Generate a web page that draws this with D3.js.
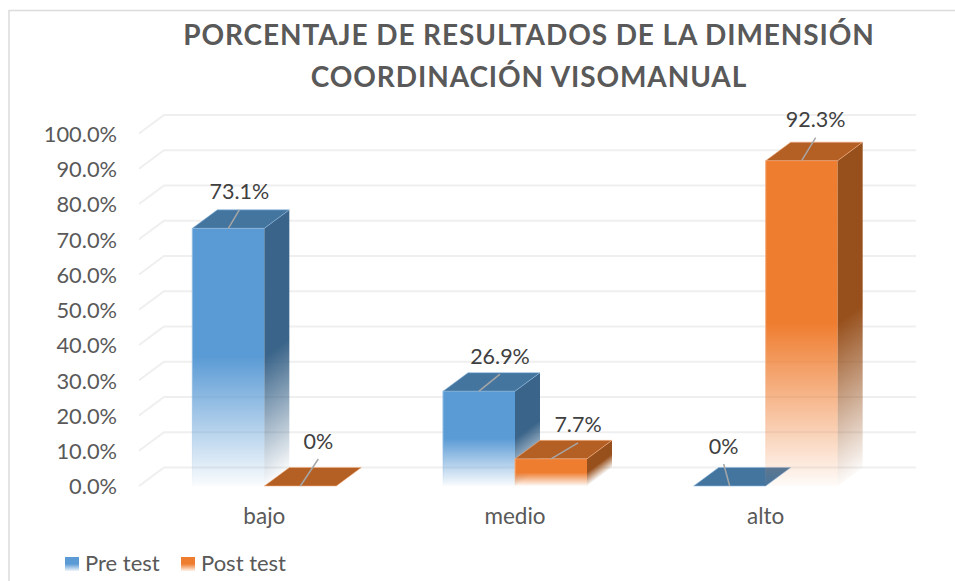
<!DOCTYPE html>
<html><head><meta charset="utf-8">
<script src="https://d3js.org/d3.v7.min.js"></script>
<style>html,body{margin:0;padding:0;background:#fff}svg{display:block}text{font-family:Lato,"Open Sans",sans-serif}</style>
</head><body><svg id="c" width="955" height="581"></svg>
<script>
const titleLines = ["PORCENTAJE DE RESULTADOS DE LA DIMENSIÓN","COORDINACIÓN VISOMANUAL"];
const categories = ["bajo","medio","alto"];
const seriesNames = ["Pre test","Post test"];
const preTest = [73.1,26.9,0];
const postTest = [0,7.7,92.3];
const preLabels = ["73.1%","26.9%","0%"];
const postLabels = ["0%","7.7%","92.3%"];
const yTicks = [0,10,20,30,40,50,60,70,80,90,100];
// leader-line offsets from the bar's front top edge midpoint (layout, not data)
const preLeader = [[11,-18.5],[21,-17],[-6,-22]];
const postLeader = [[18,-27],[27,-16],[14,-23]];

const W=955,H=581,depthX=25,depthY=-18.5;
const palette={Pre:{front:"#5b9bd5",top:"#44759f",side:"#3a6489",edge:"#8fbbe3"},
               Post:{front:"#ef7d30",top:"#b45f24",side:"#97501c",edge:"#f5b083"}};
const svg=d3.select("#c");
const defs=svg.append("defs");
const x=d3.scaleBand().domain(categories).range([139,891]);
const x1=d3.scaleBand().domain(seriesNames).range([x.bandwidth()/2-72,x.bandwidth()/2+72]);
const y=d3.scaleLinear().domain([0,100]).range([486,133.5]);

// chart frame: left and top edges only, the crop removes the rest
svg.append("path").attr("d",`M9,581V10.5H${W}`).attr("fill","none").attr("stroke","#dcdcdc").attr("stroke-width",1.5);

// title
svg.append("g").selectAll("text").data(titleLines).join("text")
  .attr("x",529).attr("y",(d,i)=>45+i*41.5).attr("text-anchor","middle")
  .attr("font-size",28).attr("font-weight",700).attr("letter-spacing",0.9).attr("fill","#595959").text(d=>d);

// gridlines on back wall + left wall
const grid=svg.append("g").attr("fill","none").attr("stroke","#efefef").attr("stroke-width",2);
yTicks.forEach(t=>{
  grid.append("path").attr("d",d3.line()([[x.range()[0],y(t)],[x.range()[0]+depthX,y(t)+depthY],[x.range()[1]+depthX,y(t)+depthY]]));
});

// y axis
const yAxis=d3.axisLeft(y).tickValues(yTicks).tickSize(0).tickFormat(d=>d.toFixed(1)+"%");
const ya=svg.append("g").attr("transform","translate(117,0)").call(yAxis);
ya.select(".domain").remove();
ya.selectAll("text").attr("x",0).attr("font-size",21.8).attr("fill","#595959").attr("dy","0.36em");

// x axis
const xa=svg.append("g").attr("transform","translate(0,516)").call(d3.axisBottom(x).tickSize(0));
xa.select(".domain").remove();
xa.selectAll("text").attr("y",0).attr("dy","0.36em").attr("font-size",22.5).attr("fill","#595959");

function fade(id,col,x1g,y1g,x2g,y2g){
  const g=defs.append("linearGradient").attr("id",id).attr("gradientUnits","userSpaceOnUse")
    .attr("x1",x1g).attr("y1",y1g).attr("x2",x2g).attr("y2",y2g);
  g.append("stop").attr("offset","0%").attr("stop-color",col);
  g.append("stop").attr("offset","50%").attr("stop-color",col);
  g.append("stop").attr("offset","100%").attr("stop-color",col).attr("stop-opacity",0.03);
  return `url(#${id})`;
}
function bar(key,name,val,cat,i,labelText,lead){
  const p=palette[key];
  const x0=x(cat)+x1(name), bw=x1.bandwidth(), yT=y(val), yB=y(0);
  const g=svg.append("g").attr("class","bar");
  if(val>0){
    const frontFill=fade(`f${key}${i}`,p.front,0,yT,0,yB);
    g.append("rect").attr("x",x0).attr("y",yT).attr("width",bw).attr("height",yB-yT).attr("fill",frontFill);
    // light edges on the front face that fade with the bar
    const edgeFill=fade(`e${key}${i}`,p.edge,0,yT,0,yB);
    g.append("rect").attr("x",x0-.5).attr("y",yT).attr("width",1).attr("height",yB-yT).attr("fill",edgeFill);
    // side gradient isolines follow the receding depth direction
    const len=Math.hypot(depthX,depthY), ux=-depthY/len, uy=depthX/len;
    const proj=(yB-yT)*uy;
    const xs=x0+bw;
    const sideFill=fade(`s${key}${i}`,p.side,xs,yT,xs+ux*proj,yT+uy*proj);
    g.append("path").attr("fill",sideFill)
      .attr("d",d3.line()([[xs,yT],[xs+depthX,yT+depthY],[xs+depthX,yB+depthY],[xs,yB]])+"Z");
  }
  g.append("path").attr("fill",p.top).attr("stroke",p.edge).attr("stroke-width",.6)
    .attr("d",d3.line()([[x0,yT],[x0+bw,yT],[x0+bw+depthX,yT+depthY],[x0+depthX,yT+depthY]])+"Z");
  const mx=x0+bw/2, ex=mx+lead[0], ey=yT+lead[1];
  labelsLayer.push({mx,yT,ex,ey,labelText});
}
const labelsLayer=[];
categories.forEach((c,i)=>{
  bar("Pre",seriesNames[0],preTest[i],c,i,preLabels[i],preLeader[i]);
  bar("Post",seriesNames[1],postTest[i],c,i,postLabels[i],postLeader[i]);
});
const lg=svg.append("g");
labelsLayer.forEach(d=>{
  lg.append("line").attr("x1",d.mx).attr("y1",d.yT).attr("x2",d.ex).attr("y2",d.ey).attr("stroke","#a6a6a6").attr("stroke-width",1.5);
  lg.append("text").attr("x",d.ex).attr("y",d.ey-10.5).attr("text-anchor","middle").attr("font-size",21.5).attr("fill","#404040").text(d.labelText);
});

// legend
const legendX=[65,181];
seriesNames.forEach((n,i)=>{
  const col=i===0?palette.Pre.front:palette.Post.front;
  const lgrad=defs.append("linearGradient").attr("id","lg"+i).attr("x1",0).attr("y1",0).attr("x2",0).attr("y2",1);
  lgrad.append("stop").attr("offset","50%").attr("stop-color",col);
  lgrad.append("stop").attr("offset","100%").attr("stop-color",col).attr("stop-opacity",.1);
  svg.append("rect").attr("x",legendX[i]).attr("y",557).attr("width",14).attr("height",14).attr("fill",`url(#lg${i})`);
  svg.append("text").attr("x",legendX[i]+20).attr("y",571).attr("font-size",22).attr("fill","#595959").text(n);
});
</script></body></html>
